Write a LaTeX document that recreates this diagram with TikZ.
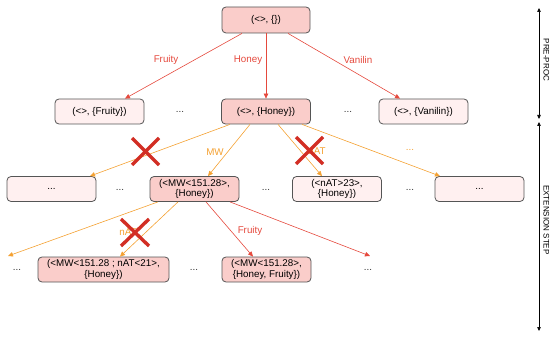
\documentclass[tikz,border=0pt]{standalone}
\usepackage{fontspec}
\setmainfont{Liberation Sans}
\usetikzlibrary{arrows.meta}
\definecolor{pinkfill}{HTML}{FACDCA}
\definecolor{lightfill}{HTML}{FFF0F0}
\definecolor{boxline}{HTML}{555555}
\definecolor{redline}{HTML}{E5493D}
\definecolor{orangeline}{HTML}{F4A132}
\definecolor{crossred}{HTML}{D22E24}
\tikzset{
  box/.style={draw=boxline, line width=0.8pt, rounded corners=4pt, minimum width=89pt, minimum height=25pt, inner sep=1pt, align=center, font=\fontsize{9.8}{10.5}\selectfont},
  hot/.style={box, fill=pinkfill},
  cold/.style={box, fill=lightfill},
  dots/.style={font=\fontsize{9.8}{10.5}\selectfont, text=black!80},
  redarr/.style={draw=redline, line width=0.6pt, -{Triangle[length=5pt,width=4.5pt]}},
  orarr/.style={draw=orangeline, line width=0.6pt, -{Triangle[length=5pt,width=4.5pt]}},
  redlab/.style={font=\fontsize{9.8}{10.5}\selectfont, text=redline},
  orlab/.style={font=\fontsize{9.8}{10.5}\selectfont, text=orangeline},
  cross/.style={draw=crossred, line width=3.4pt},
  axis/.style={draw=black, line width=0.6pt, {Triangle[length=4pt,width=3.5pt]}-{Triangle[length=4pt,width=3.5pt]}},
  axlab/.style={font=\fontsize{8}{9}\selectfont, rotate=-90}
}
\begin{document}
\begin{tikzpicture}[x=1pt,y=-1pt]
\useasboundingbox (0,0) rectangle (550,337);
% nodes
\node[hot, minimum width=88pt, minimum height=26pt] (root) at (266,20) {(<>, \{\})};
\node[cold] (f1) at (99.5,111.5) {(<>, \{Fruity\})};
\node[hot] (h1) at (266,111.5) {(<>, \{Honey\})};
\node[cold] (v1) at (423.5,111.5) {(<>, \{Vanilin\})};
\node[dots] (d1a) at (180,112) {...};
\node[dots] (d1b) at (348,112) {...};

\node[cold] (b2a) at (51.5,189) {...};
\node[hot] (mw) at (194.5,189) {(<MW<151.28>,\\\{Honey\})};
\node[cold] (nat) at (337,189) {(<nAT>23>,\\\{Honey\})};
\node[cold] (b2d) at (479.5,189) {...};
\node[dots] (d2a) at (120,190) {...};
\node[dots] (d2b) at (266,190) {...};
\node[dots] (d2c) at (410,190) {...};

\node[hot, minimum width=131pt] (nat21) at (103.5,269.5) {(<MW<151.28 ; nAT<21>,\\\{Honey\})};
\node[hot] (fr3) at (266.5,269.5) {(<MW<151.28>,\\\{Honey, Fruity\})};
\node[dots] (d3a) at (17,270) {...};
\node[dots] (d3b) at (194,270) {...};
\node[dots] (d3c) at (368,270) {...};
\coordinate (e3l) at (8,256);
\coordinate (e3r) at (370,256);

% pre-processing edges
\draw[redarr] ([xshift=-24pt]root.south) -- ([xshift=25.5pt]f1.north);
\draw[redarr] (root.south) -- (h1.north);
\draw[redarr] ([xshift=22pt]root.south) -- ([xshift=-23.5pt]v1.north);
\node[redlab] (lf) at (166,60) {Fruity};
\node[redlab] (lh) at (248,60) {Honey};
\node[redlab] (lv) at (358,60) {Vanilin};

% extension step 1
\draw[orarr] ([xshift=-36pt]h1.south) -- ([xshift=38.5pt]b2a.north);
\draw[orarr] ([xshift=-16pt]h1.south) -- ([xshift=13.5pt]mw.north);
\draw[orarr] ([xshift=12pt]h1.south) -- ([xshift=-15pt]nat.north);
\draw[orarr] ([xshift=36pt]h1.south) -- ([xshift=-39.5pt]b2d.north);
\node[orlab] (lmw) at (215,152) {MW};
\node[orlab] (lnat) at (317,151) {nAT};
\node[orlab] (ldots) at (410,150) {...};

% extension step 2
\draw[orarr] ([xshift=-36.5pt]mw.south) -- (e3l);
\draw[orarr] ([xshift=-16.5pt]mw.south) -- ([xshift=16.5pt]nat21.north);
\draw[redarr] ([xshift=11.5pt]mw.south) -- ([xshift=-13.5pt]fr3.north);
\draw[redarr] ([xshift=35.5pt]mw.south) -- (e3r);
\node[orlab] (lnat2) at (128,232) {nAT};
\node[redlab] (lfr2) at (250,231) {Fruity};

% crosses
\draw[cross] (132,138) -- (159,165) (132,165) -- (159,138);
\draw[cross] (296,137) -- (323,164) (296,164) -- (323,137);
\draw[cross] (121,219) -- (149,246) (121,246) -- (149,219);

% axis
\coordinate (a0) at (539,8);
\coordinate (a1) at (539,119);
\coordinate (a2) at (539,122);
\coordinate (a3) at (539,331);
\draw[axis] (a0) -- (a1);
\draw[axis] (a2) -- (a3);
\node[axlab] (pp) at (546.5,60) {PRE-PROC};
\node[axlab] (es) at (546.5,220) {EXTENSION STEP};
\end{tikzpicture}
\end{document}
